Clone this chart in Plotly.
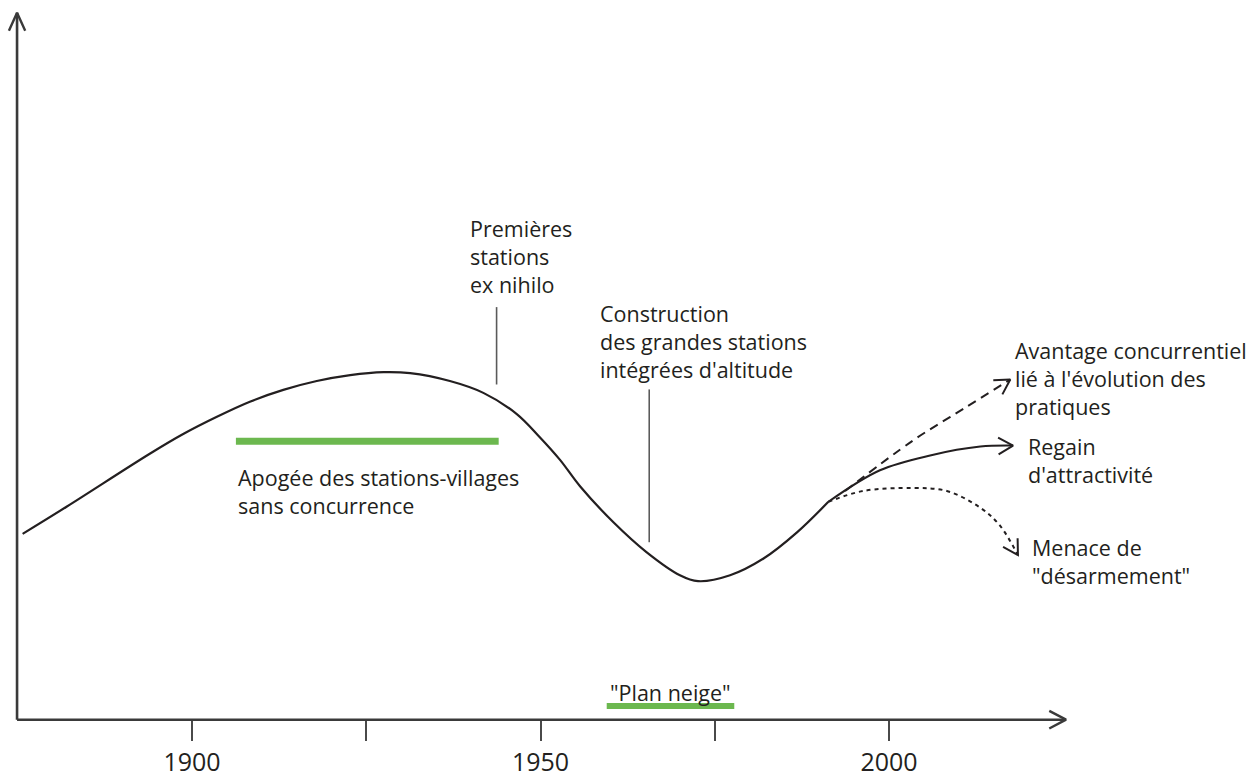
import math
import plotly.graph_objects as go

# ---------------- data ----------------
main_years = [1875.7, 1882.0, 1894.0, 1898.8, 1903.5, 1908.3, 1913.1, 1917.9, 1922.7,
              1927.5, 1931.3, 1937.0, 1941.8, 1946.6, 1949.9, 1952.8, 1955.7, 1960.5,
              1965.2, 1970.0, 1972.6, 1977.2, 1982.0, 1986.8, 1991.3]
main_index = [37.7, 43.2, 54.0, 58.0, 61.4, 64.5, 66.9, 68.7, 69.9,
              70.5, 70.3, 68.7, 66.3, 62.0, 57.3, 52.7, 47.3, 40.0,
              34.0, 29.3, 28.1, 29.3, 32.7, 38.0, 44.2]

regain_years = [1991.3, 1998.7, 2005.9, 2013.1, 2017.8]
regain_index = [44.2, 50.6, 53.6, 55.4, 55.6]

avantage_years = [1993.7, 2003.4, 2010.6, 2017.4]
avantage_index = [46.4, 56.6, 63.0, 69.0]

menace_years = [1991.3, 1996.3, 2003.4, 2008.3, 2013.1, 2015.9, 2018.5]
menace_index = [44.2, 46.4, 47.0, 46.4, 43.0, 39.4, 33.4]

apogee_period = [1906.3, 1944.0]
plan_neige_period = [1959.5, 1977.8]

premieres_year = 1943.7
premieres_marker = [83.7, 68.0]
construction_year = 1965.6
construction_marker = [67.0, 36.0]

tick_years = [1900, 1925, 1950, 1975, 2000]
tick_labels = ["1900", "", "1950", "", "2000"]

axis_x_span = [1874.9, 2025.4]
axis_y_span = [0.0, 143.4]

# ---------------- geometry helpers ----------------
W, H = 1257, 778
X_RANGE = [1900 - 192 / 6.97, 1900 - 192 / 6.97 + W / 6.97]
Y_TOP = 730 / 5.0
Y_RANGE = [Y_TOP - H / 5.0, Y_TOP]
KX = W / (X_RANGE[1] - X_RANGE[0])
KY = H / (Y_RANGE[1] - Y_RANGE[0])


def to_px(x, y):
    return (x - X_RANGE[0]) * KX, (Y_RANGE[1] - y) * KY


def to_data(px, py):
    return X_RANGE[0] + px / KX, Y_RANGE[1] - py / KY


def arrow_head(x_prev, y_prev, x_tip, y_tip, length=17, half_angle=30):
    x0, y0 = to_px(x_prev, y_prev)
    x1, y1 = to_px(x_tip, y_tip)
    ang = math.atan2(y1 - y0, x1 - x0)
    xs, ys = [], []
    for s in (1, -1):
        a = ang + math.pi + s * math.radians(half_angle)
        ax, ay = to_data(x1 + length * math.cos(a), y1 + length * math.sin(a))
        xs.append(ax)
        ys.append(ay)
    return [xs[0], x_tip, xs[1]], [ys[0], y_tip, ys[1]]


INK = "#231f20"
GREEN = "#6cb84f"
GREY = "#5a5a5a"
FONT = "Open Sans, Noto Sans, DejaVu Sans, sans-serif"

fig = go.Figure()


def line(xs, ys, color=INK, width=2.2, dash="solid", shape="linear"):
    fig.add_trace(go.Scatter(x=xs, y=ys, mode="lines", hoverinfo="skip",
                             line=dict(color=color, width=width, dash=dash, shape=shape),
                             showlegend=False, cliponaxis=False))


# axes drawn as arrows
line(axis_x_span, [0, 0], color="#3a3a3a", width=2.6)
hx, hy = arrow_head(axis_x_span[0], 0, axis_x_span[1], 0, length=19, half_angle=28)
line(hx, hy, color="#3a3a3a", width=2.4)
line([axis_x_span[0]] * 2, axis_y_span, color="#3a3a3a", width=2.6)
hx, hy = arrow_head(axis_x_span[0], axis_y_span[0], axis_x_span[0], axis_y_span[1], length=20, half_angle=24)
line(hx, hy, color="#3a3a3a", width=2.4)

# green period bars
line(apogee_period, [56.5, 56.5], color=GREEN, width=7)
line(plan_neige_period, [2.8, 2.8], color=GREEN, width=6)

# marker lines
line([premieres_year] * 2, premieres_marker, color=GREY, width=1.6)
line([construction_year] * 2, construction_marker, color=GREY, width=1.6)

# main curve and scenarios
line(main_years, main_index, shape="spline")
line(regain_years, regain_index, shape="spline", width=2)
line(avantage_years, avantage_index, shape="spline", width=2, dash="9px,6px")
line(menace_years, menace_index, shape="spline", width=2, dash="4px,4px")

for xs, ys in [(regain_years, regain_index), (avantage_years, avantage_index),
               (menace_years, menace_index)]:
    hx, hy = arrow_head(xs[-2], ys[-2], xs[-1], ys[-1])
    line(hx, hy, width=2)

# text labels (multi-line annotations)
labels = [
    ("Premières<br>stations<br>ex nihilo", 1939.6, 94.0),
    ("Construction<br>des grandes stations<br>intégrées d'altitude", 1958.25, 76.7),
    ("Avantage concurrentiel<br>lié à l'évolution des<br>pratiques", 2017.8, 69.2),
    ("Regain<br>d'attractivité", 2019.7, 52.5),
    ("Menace de<br>\"désarmement\"", 2020.3, 32.0),
    ("Apogée des stations-villages<br>sans concurrence", 1906.3, 46.3),
    ("\"Plan neige\"", 1959.7, 5.6),
]
for txt, x, y in labels:
    fig.add_annotation(x=x, y=y, text=txt, showarrow=False, xanchor="left", yanchor="middle",
                       align="left", font=dict(family=FONT, size=21.5, color=INK),
                       xref="x", yref="y")

fig.update_layout(
    width=W, height=H, margin=dict(l=0, r=0, t=0, b=0),
    paper_bgcolor="white", plot_bgcolor="white",
    xaxis=dict(range=X_RANGE, domain=[0, 1], anchor="free",
               position=(H - 730) / H,
               showgrid=False, zeroline=False, showline=False,
               tickmode="array", tickvals=tick_years, ticktext=tick_labels,
               ticks="outside", ticklen=20, tickwidth=2, tickcolor="#4a4a4a",
               ticklabelstandoff=0,
               tickfont=dict(family=FONT, size=25, color=INK)),
    yaxis=dict(range=Y_RANGE, domain=[0, 1], showgrid=False, zeroline=False,
               showline=False, showticklabels=False, ticks=""),
)

fig.write_html("out.html", config={"displayModeBar": False},
               post_script="document.body.style.margin='0';document.body.style.overflow='hidden';")
